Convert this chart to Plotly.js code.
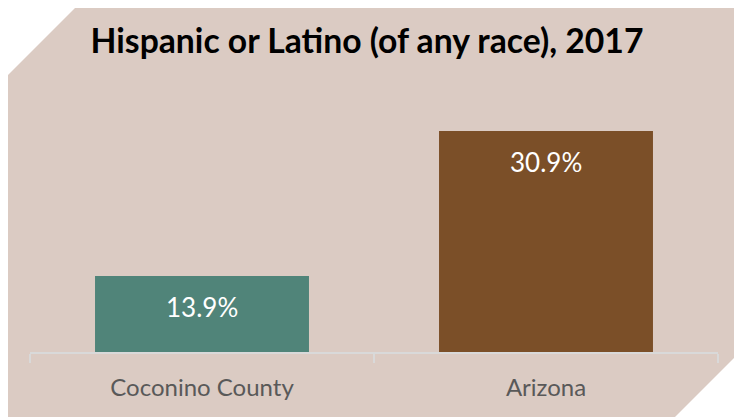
<!DOCTYPE html>
<html>
<head>
<meta charset="utf-8">
<script src="https://cdn.plot.ly/plotly-3.0.1.min.js"></script>
<style>
html,body{margin:0;padding:0;background:#fff;}
#wrap{position:relative;width:734px;height:417px;}
#bg{position:absolute;left:0;top:0;width:734px;height:417px;background:#DBCBC3;
clip-path:polygon(75px 8px,734px 8px,734px 358px,675px 417px,8px 417px,8px 75px);}
#chart{position:absolute;left:0;top:0;width:734px;height:417px;}
</style>
</head>
<body>
<div id="wrap"><div id="bg"></div><div id="chart"></div></div>
<script>
const categories = ["Coconino County", "Arizona"];
const values = [13.9, 30.9];
const labels = ["13.9%", "30.9%"];
const colors = ["#508479", "#7B4F28"];
const titleText = "Hispanic or Latino (of any race), 2017";

const FONT = "Lato, 'Open Sans', sans-serif";

const trace = {
  type: "bar",
  x: categories,
  y: values,
  marker: {color: colors},
  hoverinfo: "none"
};

const annotations = categories.map((c, i) => ({
  x: c, y: values[i], xref: "x", yref: "y",
  text: labels[i], showarrow: false,
  yanchor: "middle", yshift: -31,
  font: {family: FONT, size: 26, color: "#FFFFFF"}
}));

const layout = {
  width: 734, height: 417,
  margin: {l: 30, r: 16, t: 96, b: 65},
  paper_bgcolor: "rgba(0,0,0,0)",
  plot_bgcolor: "rgba(0,0,0,0)",
  bargap: 0.378,
  showlegend: false,
  title: {text: "<b>" + titleText + "</b>", x: 0.5, xanchor: "center", y: 0.9017, yanchor: "middle",
          font: {family: FONT, size: 33.7, color: "#000000"}},
  xaxis: {
    type: "category",
    showline: true, linecolor: "#D9D9D9", linewidth: 1.5,
    ticks: "outside", tickson: "boundaries", ticklen: 9, tickcolor: "#D9D9D9", tickwidth: 1.5,
    ticklabelstandoff: 14,
    tickfont: {family: FONT, size: 24, color: "#595959"},
    showgrid: false, zeroline: false
  },
  yaxis: {
    range: [5, 35], visible: false, showgrid: false, zeroline: false
  },
  annotations: annotations
};

Plotly.newPlot("chart", [trace], layout, {displayModeBar: false, staticPlot: true});
</script>
</body>
</html>
